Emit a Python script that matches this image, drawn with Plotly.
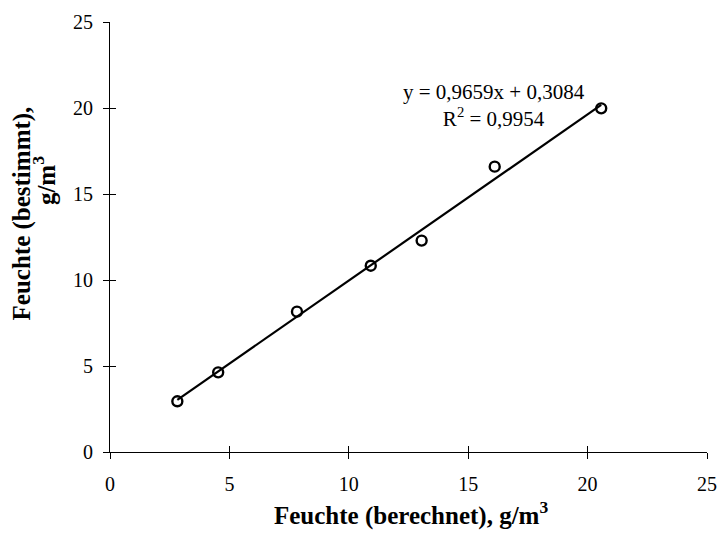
import plotly.graph_objects as go

# Data
feuchte_berechnet = [2.82, 4.53, 7.83, 10.92, 13.05, 16.11, 20.57]
feuchte_bestimmt = [2.95, 4.63, 8.16, 10.83, 12.29, 16.59, 19.98]
trend_slope = 0.9659
trend_intercept = 0.3084
r_squared = 0.9954
tick_values = [0, 5, 10, 15, 20, 25]
tick_labels = ["0", "5", "10", "15", "20", "25"]

FONT = "Liberation Serif, Times New Roman, serif"
W, H = 726, 533
ML, MR, MT, MB = 110, 9, 22, 81
PW, PH = W - ML - MR, H - MT - MB


def px_to_paper(px, py):
    return (px - ML) / PW, (H - MB - py) / PH


x_min, x_max = min(feuchte_berechnet), max(feuchte_berechnet)
trend_x = [x_min, x_max]
trend_y = [trend_slope * v + trend_intercept for v in trend_x]

fig = go.Figure()
fig.add_trace(go.Scatter(x=trend_x, y=trend_y, mode="lines",
                         line=dict(color="black", width=2.2), hoverinfo="skip",
                         showlegend=False))
fig.add_trace(go.Scatter(x=feuchte_berechnet, y=feuchte_bestimmt, mode="markers",
                         marker=dict(symbol="circle-open", size=10, color="black",
                                     line=dict(color="black", width=2.4)),
                         showlegend=False))
# invisible trace on overlay axes (for crossing ticks)
fig.add_trace(go.Scatter(x=[None], y=[None], xaxis="x2", yaxis="y2",
                         showlegend=False, hoverinfo="skip"))


def fmt(v):
    return f"{v:.4f}".replace(".", ",")


eq_text = (f"y = {fmt(trend_slope)}x + {fmt(trend_intercept)}<br>"
           f"R<sup>2</sup> = {fmt(r_squared)}")

axis_common = dict(range=[0, 25], tickvals=tick_values, ticktext=tick_labels,
                   showgrid=False, zeroline=False, showline=True,
                   linecolor="black", linewidth=1, ticklen=6, tickwidth=1,
                   tickcolor="black",
                   tickfont=dict(family=FONT, size=20, color="black"))

yt1 = px_to_paper(21, 213)
yt2 = px_to_paper(43, 181)
xt = px_to_paper(416, 532)

fig.update_layout(
    width=W, height=H,
    margin=dict(l=ML, r=MR, t=MT, b=MB),
    paper_bgcolor="white", plot_bgcolor="white",
    font=dict(family=FONT, color="black"),
    xaxis=dict(**axis_common, ticks="outside", ticklabelstandoff=8,
               ticklabeloverflow="allow"),
    yaxis=dict(**axis_common, ticks="outside", ticklabelstandoff=6),
    xaxis2=dict(**axis_common, ticks="inside", overlaying="x", side="bottom",
                showticklabels=False),
    yaxis2=dict(**axis_common, ticks="inside", overlaying="y", side="left",
                showticklabels=False),
    annotations=[
        dict(text=eq_text, x=16.07, y=20.17, xref="x", yref="y", showarrow=False,
             xanchor="center", yanchor="middle",
             align="center", font=dict(family=FONT, size=21, color="black")),
        dict(text="<b>Feuchte (bestimmt),</b>", x=yt1[0], y=yt1[1], xref="paper",
             yref="paper", showarrow=False, textangle=-90,
             xanchor="center", yanchor="middle",
             font=dict(family=FONT, size=25, color="black")),
        dict(text="<b>g/m<sup>3</sup></b>", x=yt2[0], y=yt2[1], xref="paper",
             yref="paper", showarrow=False, textangle=-90,
             xanchor="center", yanchor="middle",
             font=dict(family=FONT, size=25, color="black")),
        dict(text="<b>Feuchte (berechnet), g/m<sup>3</sup></b>", x=xt[0], y=xt[1],
             xref="paper", yref="paper", showarrow=False,
             xanchor="center", yanchor="bottom",
             font=dict(family=FONT, size=25, color="black")),
    ],
)

fig.write_html("out.html", config={"displayModeBar": False},
               post_script="document.body.style.margin='0';"
                           "document.body.style.overflow='hidden';")
